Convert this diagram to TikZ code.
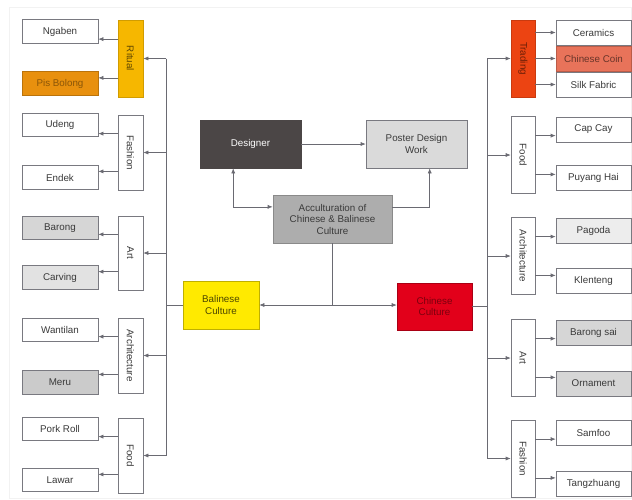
\documentclass[tikz,border=0pt]{standalone}
\usepackage{fontspec}
\setmainfont{Liberation Sans}
\usetikzlibrary{calc,arrows.meta}
\definecolor{ln}{HTML}{6A6A72}
\definecolor{txt}{HTML}{3A3A3A}
\definecolor{ritualL}{HTML}{F6B700}
\definecolor{pisb}{HTML}{E8900E}
\definecolor{tradeR}{HTML}{EC4412}
\definecolor{coin}{HTML}{E8735A}
\definecolor{gA}{HTML}{D6D6D6}
\definecolor{gB}{HTML}{E2E2E2}
\definecolor{gC}{HTML}{EDEDED}
\definecolor{desg}{HTML}{4B4646}
\definecolor{post}{HTML}{DADADA}
\definecolor{accu}{HTML}{ADADAD}
\definecolor{bali}{HTML}{FFEA00}
\definecolor{chin}{HTML}{E2001A}
\tikzset{
  box/.style={draw=ln!90, line width=0.6pt, fill=white, inner sep=1pt, align=center,
    font=\fontsize{9.8}{11.5}\selectfont, text=txt},
  lchild/.style={box, minimum width=76pt, minimum height=23.5pt},
  lcat/.style={box, minimum width=25pt},
  rchild/.style={box, minimum width=75pt, minimum height=25pt},
  rcat/.style={box, minimum width=24pt, minimum height=77pt},
  arr/.style={draw=ln, line width=0.6pt, -{Latex[length=5pt,width=4pt]}},
  biarr/.style={draw=ln, line width=0.6pt, {Latex[length=5pt,width=4pt]}-{Latex[length=5pt,width=4pt]}},
  plain/.style={draw=ln, line width=0.6pt},
}
\begin{document}
\begin{tikzpicture}[x=1pt,y=-1pt]
\useasboundingbox (0,0) rectangle (632,499);
\fill[white] (0,0) rectangle (632,499);
\draw[gray!10, line width=0.6pt] (9,7) rectangle (631,498);

% ---------- left children ----------
\node[lchild] (ngaben) at (60,31.5) {Ngaben};
\node[lchild, fill=pisb, draw=pisb!80!black, text=pisb!60!black] (pis) at (60,83.5) {Pis Bolong};
\node[lchild] (udeng) at (60,125) {Udeng};
\node[lchild] (endek) at (60,177.5) {Endek};
\node[lchild, fill=gA] (barong) at (60,228) {Barong};
\node[lchild, fill=gB] (carving) at (60,277.5) {Carving};
\node[lchild] (wantilan) at (60,330) {Wantilan};
\node[lchild, fill=gA!95!black] (meru) at (60,382.5) {Meru};
\node[lchild] (pork) at (60,429) {Pork Roll};
\node[lchild] (lawar) at (60,480) {Lawar};

% ---------- left categories ----------
\node[lcat, minimum height=77pt, fill=ritualL, draw=ritualL!85!black, text=ritualL!40!black] (ritual) at (130.5,58.5) {\rotatebox{-90}{Ritual}};
\node[lcat, minimum height=75pt] (fashionL) at (130.5,152.5) {\rotatebox{-90}{Fashion}};
\node[lcat, minimum height=74pt] (artL) at (130.5,253) {\rotatebox{-90}{Art}};
\node[lcat, minimum height=75pt] (archL) at (130.5,355.5) {\rotatebox{-90}{Architecture}};
\node[lcat, minimum height=75pt] (foodL) at (130.5,455.5) {\rotatebox{-90}{Food}};

% ---------- right children ----------
\node[rchild] (ceram) at (593.5,32.5) {Ceramics};
\node[rchild, fill=coin, draw=coin!80!black, text=coin!45!black] (coinb) at (593.5,58.5) {Chinese Coin};
\node[rchild] (silk) at (593.5,84.5) {Silk Fabric};
\node[rchild] (capcay) at (593.5,129.5) {Cap Cay};
\node[rchild] (puyang) at (593.5,178) {Puyang Hai};
\node[rchild, fill=gC] (pagoda) at (593.5,230.5) {Pagoda};
\node[rchild] (klenteng) at (593.5,281) {Klenteng};
\node[rchild, fill=gA] (barongsai) at (593.5,332.5) {Barong sai};
\node[rchild, fill=gA] (ornament) at (593.5,383.5) {Ornament};
\node[rchild] (samfoo) at (593.5,433) {Samfoo};
\node[rchild] (tang) at (593.5,484) {Tangzhuang};

% ---------- right categories ----------
\node[rcat, fill=tradeR, draw=tradeR!85!black, text=tradeR!45!black] (trading) at (523,58.5) {\rotatebox{-90}{Trading}};
\node[rcat] (foodR) at (523,155) {\rotatebox{-90}{Food}};
\node[rcat] (archR) at (523,256) {\rotatebox{-90}{Architecture}};
\node[rcat] (artR) at (523,358) {\rotatebox{-90}{Art}};
\node[rcat] (fashionR) at (523,458.5) {\rotatebox{-90}{Fashion}};

% ---------- center ----------
\node[box, minimum width=101pt, minimum height=48pt, fill=desg, draw=desg, text=white] (designer) at (250.5,144) {Designer};
\node[box, minimum width=101pt, minimum height=48pt, fill=post] (poster) at (416.5,144) {Poster Design\\Work};
\node[box, minimum width=119pt, minimum height=48pt, fill=accu, draw=accu!80!black] (acc) at (332.5,219) {Acculturation of\\Chinese \& Balinese\\Culture};
\node[box, minimum width=76pt, minimum height=48pt, fill=bali, draw=bali!75!black, text=bali!30!black] (balinese) at (221,305) {Balinese\\Culture};
\node[box, minimum width=75pt, minimum height=47pt, fill=chin, draw=chin!75!black, text=chin!55!black] (chinese) at (434.5,306.5) {Chinese\\Culture};

% center connectors
\draw[arr] (designer) -- (poster);
\draw[biarr] ($(designer.south west)!.33!(designer.south east)$) |- ($(acc.north west)!.25!(acc.south west)$);
\draw[arr] ($(acc.north east)!.25!(acc.south east)$) -| ($(poster.south west)!.63!(poster.south east)$);
\draw[biarr] (balinese.east) -- (chinese.west |- balinese.east);
\draw[plain] (acc.south) -- (acc.south |- balinese.east);

% left bus
\coordinate (lb) at (166,0);
\draw[plain] (lb |- ritual) -- (lb |- foodL);
\draw[plain] (balinese.west) -- (lb |- balinese.west);
\foreach \c in {ritual,fashionL,artL,archL,foodL} \draw[arr] (lb |- \c) -- (\c.east);

% right bus
\coordinate (rb) at (487,0);
\draw[plain] (rb |- trading) -- (rb |- fashionR);
\draw[plain] (chinese.east) -- (rb |- chinese.east);
\foreach \c in {trading,foodR,archR,artR,fashionR} \draw[arr] (rb |- \c) -- (\c.west);

% left children arrows
\foreach \c/\a/\b in {ritual/ngaben/pis, fashionL/udeng/endek, artL/barong/carving, archL/wantilan/meru, foodL/pork/lawar}{
  \draw[arr] ($(\c.north west)!.25!(\c.south west)$) coordinate (t) -- (\a.east |- t);
  \draw[arr] ($(\c.north west)!.75!(\c.south west)$) coordinate (t) -- (\b.east |- t);
}
% right children arrows
\draw[arr] (trading.east |- ceram) -- (ceram.west);
\draw[arr] (trading.east |- coinb) -- (coinb.west);
\draw[arr] (trading.east |- silk) -- (silk.west);
\foreach \c/\a/\b in {foodR/capcay/puyang, archR/pagoda/klenteng, artR/barongsai/ornament, fashionR/samfoo/tang}{
  \draw[arr] ($(\c.north east)!.25!(\c.south east)$) coordinate (t) -- (\a.west |- t);
  \draw[arr] ($(\c.north east)!.75!(\c.south east)$) coordinate (t) -- (\b.west |- t);
}
\end{tikzpicture}
\end{document}
